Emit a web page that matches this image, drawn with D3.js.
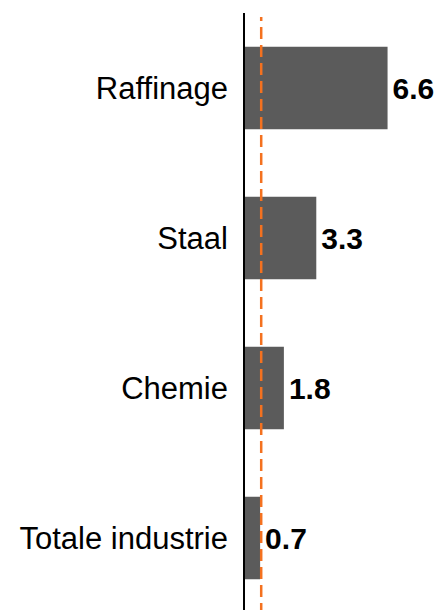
<!DOCTYPE html>
<html>
<head>
<meta charset="utf-8">
<script src="https://cdn.jsdelivr.net/npm/d3@7"></script>
<style>
    body { margin: 0; background: #fff; }
    text { font-family: "Liberation Sans", Arial, sans-serif; }
</style>
</head>
<body>
<div id="chart"></div>
<script>
// data
const categories = ['Raffinage', 'Staal', 'Chemie', 'Totale industrie'];
const values = [6.6, 3.3, 1.8, 0.7];
const referenceValue = 0.75;

const config = {
    width: 441,
    height: 610,
    axisX: 245,
    unit: 21.6,
    top: 13,
    bottom: 613,
    barColor: '#5b5b5b',
    refColor: '#f4711f'
};

let svg = d3.select('#chart')
    .append('svg')
    .attr('width', config.width)
    .attr('height', config.height);

let x = d3.scaleLinear()
    .domain([0, 8])
    .range([config.axisX, config.axisX + 8 * config.unit]);

let y = d3.scaleBand()
    .domain(categories)
    .range([config.top, config.bottom])
    .paddingInner(0.45)
    .paddingOuter(0.225);

let data = categories.map((c, i) => ({ name: c, value: values[i] }));

// bars
svg.selectAll('.bar')
    .data(data)
    .enter()
    .append('rect')
    .attr('class', 'bar')
    .attr('x', x(0))
    .attr('y', d => y(d.name))
    .attr('width', d => x(d.value) - x(0))
    .attr('height', y.bandwidth())
    .attr('fill', config.barColor);

// category labels
svg.selectAll('.cat-label')
    .data(data)
    .enter()
    .append('text')
    .attr('class', 'cat-label')
    .attr('x', x(0) - 17)
    .attr('y', d => y(d.name) + y.bandwidth() / 2)
    .attr('dy', '0.35em')
    .attr('text-anchor', 'end')
    .style('font-size', '31px')
    .attr('fill', '#000')
    .text(d => d.name);

// value labels
svg.selectAll('.val-label')
    .data(data)
    .enter()
    .append('text')
    .attr('class', 'val-label')
    .attr('x', d => x(d.value) + 5)
    .attr('y', d => y(d.name) + y.bandwidth() / 2)
    .attr('dy', '0.35em')
    .style('font-size', '30px')
    .style('font-weight', 'bold')
    .attr('fill', '#000')
    .text(d => d3.format('.1f')(d.value));

// vertical axis line
svg.append('line')
    .attr('x1', x(0) - 1)
    .attr('x2', x(0) - 1)
    .attr('y1', config.top)
    .attr('y2', config.bottom)
    .attr('stroke', '#000')
    .attr('stroke-width', 2);

// dashed reference line
svg.append('line')
    .attr('x1', x(referenceValue))
    .attr('x2', x(referenceValue))
    .attr('y1', 17)
    .attr('y2', config.bottom)
    .attr('stroke', config.refColor)
    .attr('stroke-width', 2.5)
    .attr('stroke-dasharray', '12,6')
    .attr('stroke-dashoffset', 8);
</script>
</body>
</html>
